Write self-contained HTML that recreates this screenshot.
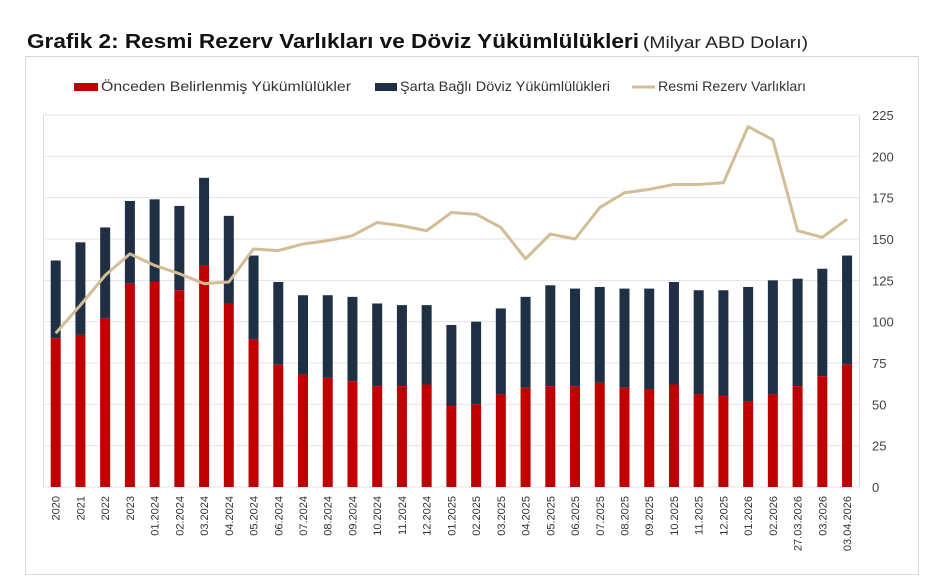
<!DOCTYPE html>
<html><head><meta charset="utf-8"><style>
body{margin:0;background:#fff;}
svg{display:block;font-family:"Liberation Sans",sans-serif;}
</style></head><body>
<svg width="926" height="584" xmlns="http://www.w3.org/2000/svg">
<text x="27" y="48" font-size="20" font-weight="bold" fill="#111" textLength="612" lengthAdjust="spacingAndGlyphs">Grafik 2: Resmi Rezerv Varlıkları ve Döviz Yükümlülükleri</text>
<text x="643" y="48" font-size="17" fill="#222" textLength="165" lengthAdjust="spacingAndGlyphs">(Milyar ABD Doları)</text>
<rect x="25.5" y="56.5" width="893" height="518" fill="none" stroke="#d9d9d9"/>
<rect x="74" y="83" width="24" height="8" fill="#c00000"/>
<text x="101" y="91" font-size="14" fill="#333" textLength="250" lengthAdjust="spacingAndGlyphs">Önceden Belirlenmiş Yükümlülükler</text>
<rect x="375" y="83" width="22" height="8" fill="#1f3044"/>
<text x="400" y="91" font-size="14" fill="#333" textLength="210" lengthAdjust="spacingAndGlyphs">Şarta Bağlı Döviz Yükümlülükleri</text>
<line x1="632" y1="87" x2="655" y2="87" stroke="#d2bd96" stroke-width="3"/>
<text x="658" y="91" font-size="14" fill="#333" textLength="148" lengthAdjust="spacingAndGlyphs">Resmi Rezerv Varlıkları</text>
<g id="chart"></g>
</svg>
<script>
var d=[["2020",137,90,93],["2021",148,92,110],["2022",157,102,128],["2023",173,123,141],["01.2024",174,124,134],["02.2024",170,119,129],["03.2024",187,134,123],["04.2024",164,111,124],["05.2024",140,89,144],["06.2024",124,74,143],["07.2024",116,68,147],["08.2024",116,66,149],["09.2024",115,64,152],["10.2024",111,61,160],["11.2024",110,61,158],["12.2024",110,62,155],["01.2025",98,49,166],["02.2025",100,50,165],["03.2025",108,56,157],["04.2025",115,60,138],["05.2025",122,61,153],["06.2025",120,61,150],["07.2025",121,63,169],["08.2025",120,60,178],["09.2025",120,59,180],["10.2025",124,62,183],["11.2025",119,56,183],["12.2025",119,55,184],["01.2026",121,52,218],["02.2026",125,56,210],["27.03.2026",126,61,155],["03.2026",132,67,151],["03.04.2026",140,74,162]];
var L=43,R=859,T=115,B=487,s=(B-T)/225,h='';
function y(v){return B-v*s;}
for(var i=0;i<=9;i++){var yy=y(i*25);h+='<line x1="'+L+'" x2="'+R+'" y1="'+yy+'" y2="'+yy+'" stroke="#e3e3e3"/>';h+='<text x="872" y="'+(yy+5)+'" font-size="13" fill="#444">'+(i*25)+'</text>';}
h+='<line x1="'+L+'.5" x2="'+L+'.5" y1="'+T+'" y2="'+B+'" stroke="#ddd"/><line x1="'+R+'.5" x2="'+R+'.5" y1="'+T+'" y2="'+B+'" stroke="#ddd"/>';
var pts=[];
d.forEach(function(e,i){var cx=55.7+i*24.73;
h+='<rect x="'+(cx-5)+'" y="'+y(e[1])+'" width="10" height="'+(e[1]-e[2])*s+'" fill="#1f3044"/>';
h+='<rect x="'+(cx-5)+'" y="'+y(e[2])+'" width="10" height="'+e[2]*s+'" fill="#c00000"/>';
pts.push(cx+','+y(e[3]));
h+='<text transform="translate('+(cx+4)+',496) rotate(-90)" text-anchor="end" font-size="11" fill="#333">'+e[0]+'</text>';});
h+='<polyline points="'+pts.join(' ')+'" fill="none" stroke="#d2bd96" stroke-width="3" stroke-linejoin="round"/>';
document.getElementById('chart').innerHTML=h;
</script>
</body></html>
